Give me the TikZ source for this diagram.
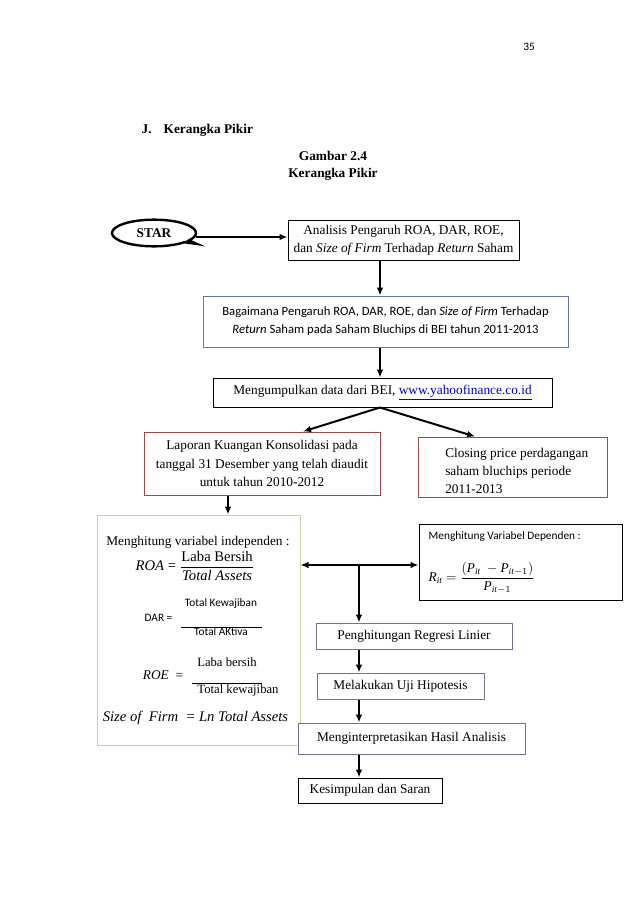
\documentclass[tikz,border=0pt]{standalone}
\usepackage{fontspec}
\usepackage{amsmath}
\setmainfont{Liberation Serif}
\newfontfamily\calib{Carlito}
\usetikzlibrary{shapes.callouts,shapes.geometric,arrows.meta}
\definecolor{redb}{RGB}{155,75,75}
\definecolor{bgray}{RGB}{100,120,150}
\definecolor{pgray}{RGB}{115,115,145}
\definecolor{gboxc}{RGB}{195,214,155}
\definecolor{linkblue}{RGB}{0,0,205}
\begin{document}
\begin{tikzpicture}[x=0.75pt,y=-0.75pt,
  font=\fontsize{10}{13.5}\selectfont,
  box/.style={draw, line width=0.75pt, fill=white, inner sep=0pt, align=center},
  arr/.style={line width=1.5pt, -{Latex[length=6pt,width=5pt]}},
  dblarr/.style={line width=1.5pt, {Latex[length=6pt,width=5pt]}-{Latex[length=6pt,width=5pt]}},
  calfont/.style={font=\calib\fontsize{8.5}{10}\selectfont},
  fracline/.style={line width=0.7pt}
  ]
\useasboundingbox[fill=white] (0,0) rectangle (638,903);

% header
\node[calfont] (pg) at (529,47) {35};
\node[font=\bfseries\fontsize{10}{12}\selectfont, anchor=west] (jh) at (137,130) {J.\hspace{0.9em}Kerangka Pikir};
\node[font=\bfseries\fontsize{10}{12.5}\selectfont, align=center] (gam) at (333,166) {Gambar 2.4\\Kerangka Pikir};

% STAR
\node[ellipse callout, draw, line width=1.8pt, fill=white, minimum width=63pt, minimum height=20pt,
      callout absolute pointer={(197,244)}, callout pointer arc=10, font=\bfseries] (star) at (154,233) {STAR};
\node[box, minimum width=173.25pt, minimum height=30pt] (ana) at (403.5,240)
  {Analisis Pengaruh ROA, DAR, ROE,\\ dan \textit{Size of Firm} Terhadap \textit{Return} Saham};
\coordinate (sa) at (196,237);
\draw[arr] (sa) -- (sa -| ana.west);

\node[box, draw=bgray, minimum width=273.75pt, minimum height=38.25pt,
      font=\calib\fontsize{9.5}{13.5}\selectfont] (bag) at (385.5,321.5)
  {Bagaimana Pengaruh ROA, DAR, ROE, dan \textit{Size of Firm} Terhadap\\ \textit{Return} Saham pada Saham Bluchips di BEI tahun 2011-2013};

\node[box, minimum width=254.25pt, minimum height=21.75pt] (mg) at (382.5,392.5)
  {Mengumpulkan data dari BEI, \textcolor{linkblue}{\underline{www.yahoofinance.co.id}}};

\node[box, draw=redb, minimum width=177pt, minimum height=47.25pt,
      font=\fontsize{10}{13.9}\selectfont] (lap) at (262,463.5)
  {Laporan Kuangan Konsolidasi pada\\ tanggal 31 Desember yang telah diaudit\\ untuk tahun 2010-2012};

\node[box, draw=redb, minimum width=141.75pt, minimum height=45pt] (clo) at (512.5,467) {};
\node[anchor=west, align=left, inner sep=0pt, font=\fontsize{10}{13.5}\selectfont] (clot) at (445,471)
  {Closing price perdagangan\\ saham bluchips periode\\ 2011-2013};

\coordinate (cx) at (380,0);
\draw[arr] (ana.south -| cx) -- (bag.north -| cx);
\draw[arr] (bag.south -| cx) -- (mg.north -| cx);
\draw[arr] (mg.south -| cx) -- ([xshift=30.75pt]lap.north);
\draw[arr] (mg.south -| cx) -- ([xshift=-28.1pt]clo.north);

% green independent box
\node[box, draw=gboxc, minimum width=152.25pt, minimum height=172.5pt] (gbox) at (198.5,630) {};
\draw[arr] ([xshift=-25.5pt]lap.south) -- ([xshift=-25.5pt]lap.south |- gbox.north);

\node (gt) at (198,542) {Menghitung variabel independen :};
\node[font=\fontsize{11}{13}\selectfont] (roa) at (195,566) {\textit{ROA} = $\dfrac{\text{Laba Bersih}}{\text{\itshape Total Assets}}$};
\node[calfont] (dn) at (221,604) {Total Kewajiban};
\node[calfont] (dl) at (158.5,618) {DAR =};
\node[calfont] (dd) at (221,632) {Total AKtiva};
\draw[fracline] (181,627) -- (262,627);
\node[font=\fontsize{9.5}{11}\selectfont] (rn) at (227,662) {Laba bersih};
\node (rl) at (163,675) {\textit{ROE}\ \ =};
\draw[fracline] (192,683) -- (262,683);
\node[font=\fontsize{9.5}{11}\selectfont] (rd) at (238,690) {Total kewajiban};
\node[font=\itshape\fontsize{11}{13}\selectfont] (sf) at (195.5,718) {Size\ of\ \ Firm\ \ =\ Ln\ Total\ Assets};

% dependent box
\node[box, minimum width=152.25pt, minimum height=57pt] (dep) at (520.5,562) {};
\node[calfont, anchor=west] (dt) at (424,537) {Menghitung Variabel Dependen :};
\node[font=\fontsize{10}{11}\selectfont, anchor=west] (df) at (424,578)
  {\textit{R}$_{\textit{it}}$ $=\dfrac{(\textit{P}_{\textit{it}}\ -\textit{P}_{\textit{it}-1})}{\textit{P}_{\textit{it}-1}}$};

% lower chain
\node[box, draw=pgray, minimum width=147pt, minimum height=19.5pt] (ph) at (414,636) {Penghitungan Regresi Linier};
\node[box, draw=pgray, minimum width=125.25pt, minimum height=19.5pt] (mel) at (400.5,686) {Melakukan Uji Hipotesis};
\node[box, draw=pgray, minimum width=170.25pt, minimum height=23.25pt] (mi) at (411.5,738.5) {Menginterpretasikan Hasil Analisis};
\node[box, minimum width=108pt, minimum height=18.75pt] (kes) at (370,790.5) {Kesimpulan dan Saran};

\coordinate (hy) at (359,565);
\draw[dblarr] (hy -| gbox.east) -- (hy -| dep.west);
\draw[arr] (hy) -- (hy |- ph.north);
\draw[arr] (ph.south -| hy) -- (mel.north -| hy);
\draw[arr] (mel.south -| hy) -- (mi.north -| hy);
\draw[arr] (mi.south -| hy) -- (kes.north -| hy);
\end{tikzpicture}
\end{document}
